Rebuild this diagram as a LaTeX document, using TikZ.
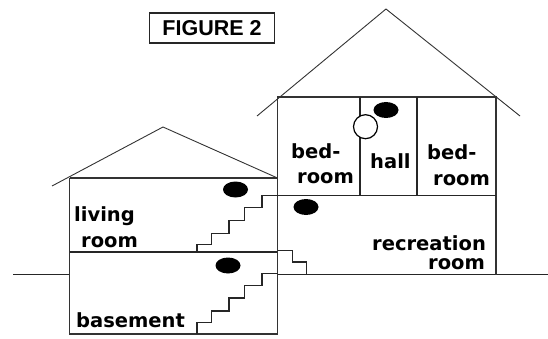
\documentclass[tikz,border=0pt]{standalone}
\usepackage{fontspec}
\setmainfont{Liberation Sans}
\newfontfamily\lblfont{DejaVu Sans}
\usetikzlibrary{shapes.geometric}
\tikzset{
  wall/.style={draw=black!80,line width=1.5pt},
  thin wall/.style={draw=black!85,line width=1.1pt},
  roofline/.style={draw=black!80,line width=0.9pt},
  occupant/.style={draw=none,fill=black,ellipse,minimum width=25pt,minimum height=16pt,inner sep=0pt},
  roomlabel/.style={font=\lblfont\bfseries\fontsize{19.5}{21}\selectfont,anchor=base west,inner sep=0pt,text=black},
  titlebox/.style={draw=black!85,line width=1.6pt,fill=white,minimum width=125pt,minimum height=30pt,inner sep=0pt,font=\bfseries\fontsize{21.5}{23}\selectfont},
  marker/.style={circle,draw=black,line width=1.2pt,fill=white,minimum size=24pt,inner sep=0pt}
}
\begin{document}
\begin{tikzpicture}[x=1pt,y=-1pt]
\useasboundingbox (0,0) rectangle (548,339);
% ground
\draw[thin wall] (13,274.5) -- (69.5,274.5);
\draw[thin wall] (277.5,274.5) -- (548,274.5);
% roofs
\draw[roofline] (52,186) -- (163,127) -- (277.5,178);
\draw[roofline] (257,116) -- (386,9) -- (520,116);
% left house
\draw[wall] (69.5,178) -- (69.5,334) -- (277.5,334);
\draw[wall] (69.5,178) -- (277.5,178);
\draw[thin wall] (69.5,252) -- (277.5,252);
\draw[wall] (277.5,334) -- (277.5,97) -- (496,97) -- (496,274.5);
\draw[thin wall] (277.5,195.5) -- (496,195.5);
\draw[thin wall] (360,97) -- (360,195.5);
\draw[thin wall] (417,97) -- (417,195.5);
% stairs
\draw[thin wall] (197,252) |- (211.7,244.7) |- (229,233.3) |- (244.7,220.7) |- (262,207.7) |- (278,195.5);
\draw[thin wall] (197,334) |- (211.7,322.3) |- (229,311) |- (244.7,298) |- (262,285.7) |- (278,273.5);
\draw[thin wall] (278,250.5) -| (292.3,262) -| (306.3,274);
% occupants
\node[occupant] (o1) at (386,110) {};
\node[occupant] (o2) at (235.5,189.5) {};
\node[occupant] (o3) at (306,207) {};
\node[occupant] (o4) at (228,265.5) {};
\node[marker] (m) at (365.5,126.7) {};
% labels
\node[titlebox] (t) at (212,28) {FIGURE 2};
\node[roomlabel] (a) at (291,158) {bed-};
\node[roomlabel] (b) at (297,183) {room};
\node[roomlabel] (c) at (370,168) {hall};
\node[roomlabel] (d) at (427,160) {bed-};
\node[roomlabel] (e) at (433,185) {room};
\node[roomlabel] (f) at (74,221) {living};
\node[roomlabel] (g) at (81,247) {room};
\node[roomlabel] (h) at (76,327) {basement};
\node[roomlabel] (i) at (372,250) {recreation};
\node[roomlabel] (j) at (428,269) {room};
\end{tikzpicture}
\end{document}
